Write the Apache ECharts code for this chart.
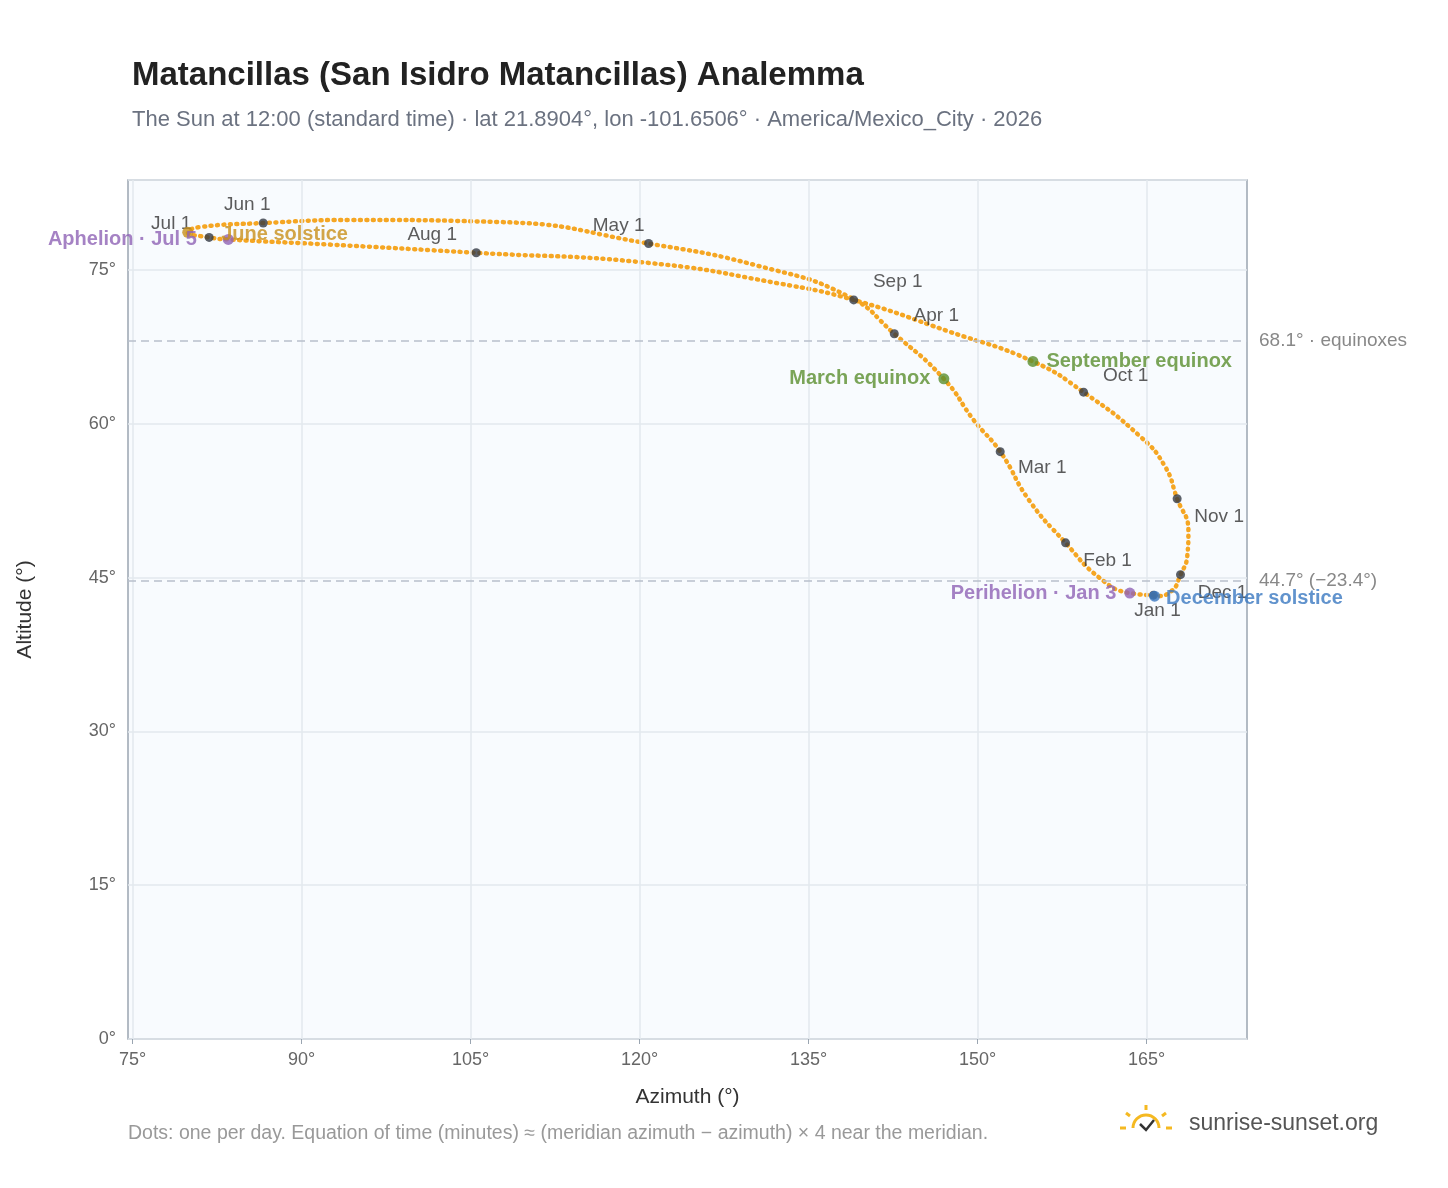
<!DOCTYPE html>
<html><head><meta charset="utf-8">
<script src="https://cdn.jsdelivr.net/npm/echarts@6/dist/echarts.min.js"></script>
<style>html,body{margin:0;padding:0;background:#fff}#c{width:1448px;height:1188px}</style>
</head><body><div id="c"></div>
<script>
// Path (azimuth°, altitude°), Jan 1 -> Dec 31
const pathAz  = [165.6,163.5,160.8,157.8,154.6,152.0,149.7,147.0,142.6,138.6,130.6,120.8,107.6,94.3,86.6,80.9,79.9,81.8,83.5,92.5,105.5,120.9,132.4,139.0,147.5,154.9,159.4,164.4,166.6,167.7,168.7,168.6,168.0,167.2,165.7,165.6];
const pathAlt = [43.3,43.5,45.0,48.4,52.5,57.3,60.3,64.4,68.8,72.4,75.4,77.6,79.7,79.9,79.6,79.2,78.7,78.2,78.0,77.5,76.7,75.7,73.7,72.1,69.0,66.1,63.1,58.8,55.9,52.7,49.6,47.1,45.3,43.7,43.2,43.3];
const monthNames = ['Jan 1','Feb 1','Mar 1','Apr 1','May 1','Jun 1','Jul 1','Aug 1','Sep 1','Oct 1','Nov 1','Dec 1'];
const monthAz  = [165.6,157.8,152.0,142.6,120.8,86.6,81.8,105.5,139.0,159.4,167.7,168.0];
const monthAlt = [43.3,48.4,57.3,68.8,77.6,79.6,78.2,76.7,72.1,63.1,52.7,45.3];
const eventNames = ['Perihelion · Jan 3','March equinox','June solstice','Aphelion · Jul 5','September equinox','December solstice'];
const eventAz  = [163.5,147.0,79.9,83.5,154.9,165.7];
const eventAlt = [43.5,64.4,78.7,78.0,66.1,43.2];
const refLines = [68.1,44.7];
const refLabels = ['68.1° · equinoxes','44.7° (−23.4°)'];

const monthPos = {'Jan 1':[4,16],'Feb 1':[42,18],'Mar 1':[42,16],'Apr 1':[42,-18],'May 1':[-30,-18],'Jun 1':[-16,-18],'Jul 1':[-38,-14],'Aug 1':[-44,-18],'Sep 1':[44,-18],'Oct 1':[42,-16],'Nov 1':[42,18],'Dec 1':[42,18]};
const evStyle = [
 {c:'#8e63b5',pos:'left',off:[0,0]},{c:'#5a8f2e',pos:'left',off:[0,0]},{c:'#c8901a',pos:'right',off:[20,2]},
 {c:'#8e63b5',pos:'left',off:[-18,0]},{c:'#5a8f2e',pos:'right',off:[0,0]},{c:'#3a78c0',pos:'right',off:[-2,2]}];

const chart = echarts.init(document.getElementById('c'));
const F='Liberation Sans, Arial, sans-serif';
const ticks=[75,90,105,120,135,150,165];
chart.setOption({
 animation:false,
 title:[{text:'Matancillas (San Isidro Matancillas) Analemma',left:127,top:54,textStyle:{fontSize:33,fontWeight:'bold',color:'#222',fontFamily:F}},
        {text:'The Sun at 12:00 (standard time) · lat 21.8904°, lon -101.6506° · America/Mexico_City · 2026',left:127,top:104,textStyle:{fontSize:22,fontWeight:'normal',color:'#6b7280',fontFamily:F}}],
 grid:{left:128,right:201,top:180,bottom:149,backgroundColor:'#f8fbfe',show:true,borderColor:'#9aa5b1',borderWidth:1.5},
 xAxis:{type:'value',min:74.6,max:173.9,interval:15,name:'Azimuth (°)',nameLocation:'middle',nameGap:48,
   nameTextStyle:{fontSize:21,color:'#333',fontFamily:F},
   axisLabel:{formatter:v=>v+'°',customValues:ticks,fontSize:18,color:'#666',fontFamily:F,margin:12},
   axisTick:{show:true,customValues:ticks,lineStyle:{color:'#9aa5b1'}},axisLine:{show:false},
   splitLine:{show:false}},
 yAxis:{type:'value',min:0,max:83.8,interval:15,name:'Altitude (°)',nameLocation:'middle',nameGap:92,
   nameTextStyle:{fontSize:21,color:'#333',fontFamily:F},
   axisLabel:{formatter:v=>(v%15===0?v+'°':''),fontSize:18,color:'#666',fontFamily:F,margin:12},
   axisLine:{show:false},axisTick:{show:false},
   splitLine:{lineStyle:{color:'#e3e8ee',width:1.5}}},
 series:[
  {type:'line',data:ticks.map(v=>[v,0]),symbol:'none',lineStyle:{width:0},silent:true,
   markLine:{symbol:'none',silent:true,data:ticks.map(v=>({xAxis:v})),lineStyle:{color:'#e3e8ee',type:'solid',width:1.5},label:{show:false}}},
  {type:'line',data:pathAz.map((a,i)=>[a,pathAlt[i]]),smooth:0.5,symbol:'none',
   lineStyle:{color:'#f5a623',width:4.5,type:[1,5.5],cap:'round'},
   markLine:{symbol:'none',silent:true,data:refLines.map((v,i)=>({yAxis:v,label:{formatter:refLabels[i]}})),
     lineStyle:{color:'#b8c0cc',type:[8,5],width:1.5},
     label:{position:'end',color:'#888',fontSize:19,fontFamily:F,distance:12}}},
  {type:'scatter',data:monthAz.map((a,i)=>({value:[a,monthAlt[i]],name:monthNames[i],label:{offset:monthPos[monthNames[i]]}})),
   symbolSize:9,itemStyle:{color:'#333a44'},z:5,
   label:{show:true,formatter:p=>p.name,color:'#333',fontSize:19,fontFamily:F}},
  {type:'scatter',data:eventAz.map((a,i)=>({value:[a,eventAlt[i]],name:eventNames[i],itemStyle:{color:evStyle[i].c},
     label:{position:evStyle[i].pos,color:evStyle[i].c,offset:evStyle[i].off}})),
   symbolSize:11,z:6,label:{show:true,formatter:p=>p.name,fontSize:20,fontWeight:'bold',fontFamily:F,distance:8}}
 ],
 graphic:[
  {type:'text',left:128,top:1124,style:{text:'Dots: one per day. Equation of time (minutes) ≈ (meridian azimuth − azimuth) × 4 near the meridian.',fill:'#999',fontSize:19.5,fontFamily:F}},
  {type:'text',left:1189,top:1112,style:{text:'sunrise-sunset.org',fill:'#555',fontSize:23,fontFamily:F}},
  {type:'arc',shape:{cx:1146,cy:1128,r:13,startAngle:Math.PI,endAngle:2*Math.PI},style:{stroke:'#f5b921',lineWidth:3,fill:null}},
  {type:'line',shape:{x1:1146,y1:1105,x2:1146,y2:1110},style:{stroke:'#f5b921',lineWidth:3}},
  {type:'line',shape:{x1:1126,y1:1113,x2:1130,y2:1116},style:{stroke:'#f5b921',lineWidth:3}},
  {type:'line',shape:{x1:1166,y1:1113,x2:1162,y2:1116},style:{stroke:'#f5b921',lineWidth:3}},
  {type:'line',shape:{x1:1120,y1:1128,x2:1126,y2:1128},style:{stroke:'#f5b921',lineWidth:3}},
  {type:'line',shape:{x1:1166,y1:1128,x2:1172,y2:1128},style:{stroke:'#f5b921',lineWidth:3}},
  {type:'polyline',shape:{points:[[1140,1124],[1146,1130],[1154,1120]]},style:{stroke:'#333',lineWidth:2.5,fill:null}}
 ]
});
</script></body></html>
